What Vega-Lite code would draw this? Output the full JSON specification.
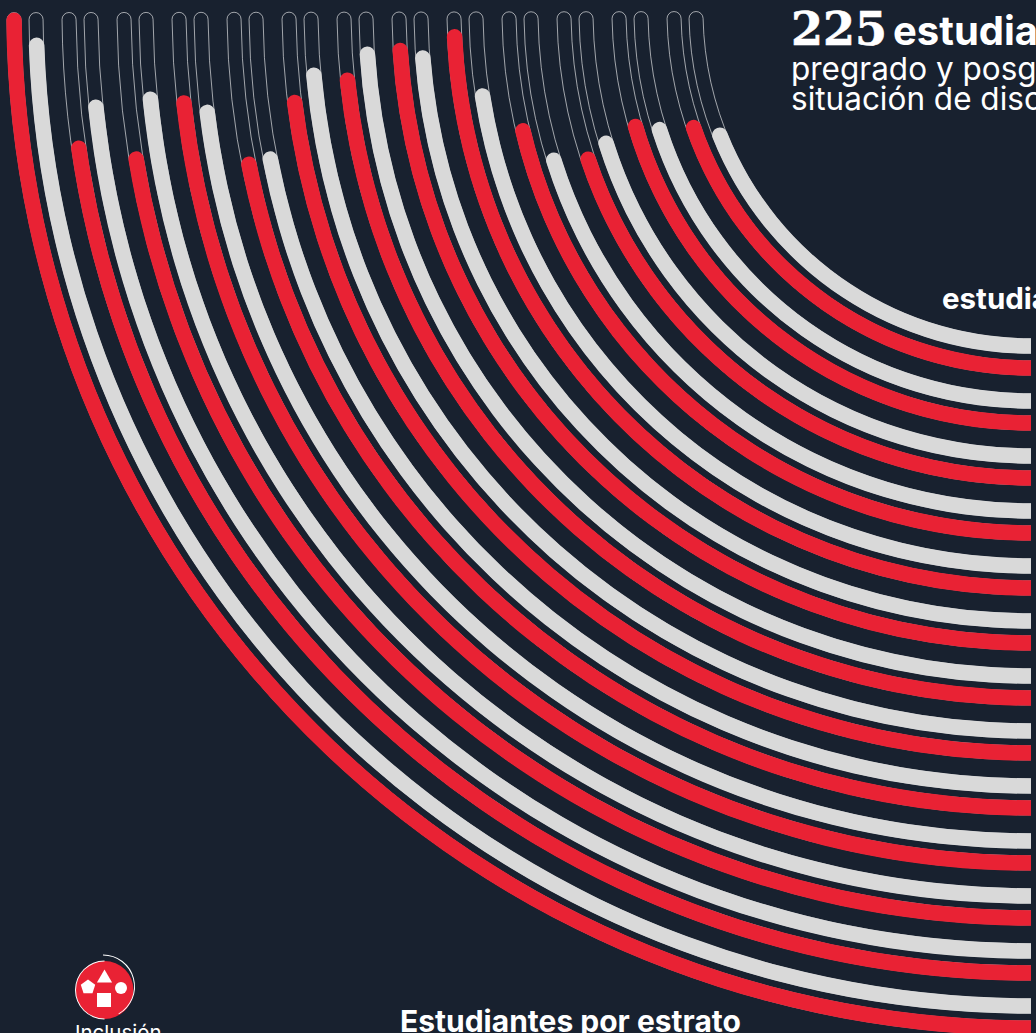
{"$schema":"https://vega.github.io/schema/vega-lite/v6.json","width":1031,"height":1033,"autosize":"none","padding":{"left":0,"top":0,"right":5,"bottom":0},"background":"#18212f","view":{"stroke":null},
"datasets":{"arcos":[
{"pista":1,"categoria":"gris","avance":77.3},{"pista":2,"categoria":"rojo","avance":80.2},{"pista":3,"categoria":"gris","avance":81.6},{"pista":4,"categoria":"rojo","avance":83.1},{"pista":5,"categoria":"gris","avance":81.9},{"pista":6,"categoria":"rojo","avance":80.5},{"pista":7,"categoria":"gris","avance":81.7},{"pista":8,"categoria":"rojo","avance":86.2},{"pista":9,"categoria":"gris","avance":91.1},{"pista":10,"categoria":"rojo","avance":98.0},{"pista":11,"categoria":"gris","avance":95.9},{"pista":12,"categoria":"rojo","avance":96.8},{"pista":13,"categoria":"gris","avance":96.6},{"pista":14,"categoria":"rojo","avance":94.3},{"pista":15,"categoria":"gris","avance":95.0},{"pista":16,"categoria":"rojo","avance":92.8},{"pista":17,"categoria":"gris","avance":88.4},{"pista":18,"categoria":"rojo","avance":88.3},{"pista":19,"categoria":"gris","avance":92.8},{"pista":20,"categoria":"rojo","avance":93.7},{"pista":21,"categoria":"gris","avance":94.2},{"pista":22,"categoria":"rojo","avance":90.1},{"pista":23,"categoria":"gris","avance":94.0},{"pista":24,"categoria":"rojo","avance":91.4},{"pista":25,"categoria":"gris","avance":98.3},{"pista":26,"categoria":"rojo","avance":99.9}
]},
"resolve":{"scale":{"radius":"independent"}},
"layer":[
{"data":{"name":"arcos"},"transform":[{"filter":"datum.categoria==='gris'"}],"mark":{"type":"arc","x":1031,"y":11,"clip":true,"cornerRadius":7,"fill":null,"stroke":"#ffffff","strokeOpacity":0.75,"strokeWidth":0.8},
"encoding":{"radius":{"field":"pista","type":"ordinal","scale":{"type":"band","range":[328,1002],"paddingInner":0.745,"paddingOuter":0}},"theta":{"datum":99.9,"scale":{"domain":[0,100],"range":[3.14159265,4.71238898]}},"theta2":{"datum":-3}}},
{"data":{"name":"arcos"},"transform":[{"filter":"datum.categoria==='rojo'"}],"mark":{"type":"arc","x":1031,"y":11,"clip":true,"cornerRadius":7,"fill":null,"stroke":"#ffffff","strokeOpacity":0.75,"strokeWidth":0.8},
"encoding":{"radius":{"field":"pista","type":"ordinal","scale":{"type":"band","range":[350,1024],"paddingInner":0.745,"paddingOuter":0}},"theta":{"datum":99.9,"scale":{"domain":[0,100],"range":[3.14159265,4.71238898]}},"theta2":{"datum":-3}}},
{"data":{"name":"arcos"},"transform":[{"filter":"datum.categoria==='gris'"}],"mark":{"type":"arc","x":1031,"y":11,"clip":true,"cornerRadius":7.75,"fill":"#d9d9d9"},
"encoding":{"radius":{"field":"pista","type":"ordinal","scale":{"type":"band","range":[327.25,1002.75],"paddingInner":0.718,"paddingOuter":0}},"theta":{"field":"avance","type":"quantitative","scale":{"domain":[0,100],"range":[3.14159265,4.71238898]}},"theta2":{"datum":-3}}},
{"data":{"name":"arcos"},"transform":[{"filter":"datum.categoria==='rojo'"}],"mark":{"type":"arc","x":1031,"y":11,"clip":true,"cornerRadius":7.75,"fill":"#e92234"},
"encoding":{"radius":{"field":"pista","type":"ordinal","scale":{"type":"band","range":[349.25,1024.75],"paddingInner":0.718,"paddingOuter":0}},"theta":{"field":"avance","type":"quantitative","scale":{"domain":[0,100],"range":[3.14159265,4.71238898]}},"theta2":{"datum":-3}}},
{"data":{"values":[{"t":"225"}]},"mark":{"type":"text","x":791,"y":45,"align":"left","baseline":"alphabetic","font":"DejaVu Serif","fontWeight":"bold","fontSize":46,"stroke":"#ffffff","strokeWidth":0.6,"fill":"#ffffff"},"encoding":{"text":{"field":"t"}}},
{"data":{"values":[{"t":"estudiantes de"}]},"mark":{"type":"text","x":893,"y":45,"align":"left","baseline":"alphabetic","font":"Inter","fontWeight":"bold","fontSize":40,"fill":"#ffffff"},"encoding":{"text":{"field":"t"}}},
{"data":{"values":[{"t":"pregrado y posgrado en"}]},"mark":{"type":"text","x":791,"y":80,"align":"left","baseline":"alphabetic","font":"Inter","fontSize":31.5,"fill":"#ffffff"},"encoding":{"text":{"field":"t"}}},
{"data":{"values":[{"t":"situación de discapacidad"}]},"mark":{"type":"text","x":791,"y":110,"align":"left","baseline":"alphabetic","font":"Inter","fontSize":31.5,"fill":"#ffffff"},"encoding":{"text":{"field":"t"}}},
{"data":{"values":[{"t":"estudiantes"}]},"mark":{"type":"text","x":942,"y":309,"align":"left","baseline":"alphabetic","font":"Inter","fontWeight":"bold","fontSize":29.5,"fill":"#ffffff"},"encoding":{"text":{"field":"t"}}},
{"data":{"values":[{"t":"Estudiantes por estrato"}]},"mark":{"type":"text","x":400,"y":1032,"align":"left","baseline":"alphabetic","font":"Inter","fontWeight":"bold","fontSize":30,"fill":"#ffffff"},"encoding":{"text":{"field":"t"}}},
{"data":{"values":[{"t":"Inclusión"}]},"mark":{"type":"text","x":75,"y":1040,"align":"left","baseline":"alphabetic","font":"Inter","fontSize":20.5,"fill":"#ffffff"},"encoding":{"text":{"field":"t"}}},
{"data":{"values":[{"t":"logo"}]},"mark":{"type":"arc","x":104.5,"y":990,"outerRadius":29,"innerRadius":0,"fill":"#e92234"},"encoding":{}},
{"data":{"values":[{"t":"logo"}]},"mark":{"type":"arc","x":104.5,"y":990,"outerRadius":29.5,"innerRadius":28.5,"theta":3.14159,"theta2":6.28318,"fill":"#ffffff"},"encoding":{}},
{"data":{"values":[{"t":"logo"}]},"mark":{"type":"arc","x":103,"y":986.5,"outerRadius":32,"innerRadius":31,"theta":0,"theta2":2.62,"fill":"#ffffff"},"encoding":{}},
{"data":{"values":[{"t":"logo"}]},"mark":{"type":"point","x":104.5,"y":976,"shape":"triangle-up","size":230,"filled":true,"fill":"#ffffff","opacity":1},"encoding":{}},
{"data":{"values":[{"t":"logo"}]},"mark":{"type":"point","x":121,"y":988,"shape":"circle","size":145,"filled":true,"fill":"#ffffff","opacity":1},"encoding":{}},
{"data":{"values":[{"t":"logo"}]},"mark":{"type":"point","x":104,"y":1000,"shape":"square","size":196,"filled":true,"fill":"#ffffff","opacity":1},"encoding":{}},
{"data":{"values":[{"t":"logo"}]},"mark":{"type":"point","x":88,"y":987,"shape":"M0,-1L0.95,-0.31L0.59,0.81L-0.59,0.81L-0.95,-0.31Z","size":230,"filled":true,"fill":"#ffffff","opacity":1},"encoding":{}}
]}
